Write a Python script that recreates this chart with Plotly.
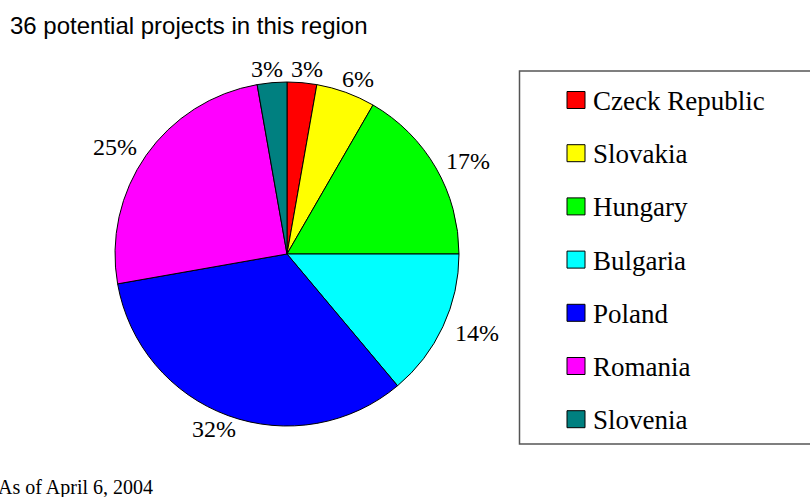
import math
import plotly.graph_objects as go

W, H = 810, 497

countries = ["Czeck Republic", "Slovakia", "Hungary", "Bulgaria", "Poland", "Romania", "Slovenia"]
projects = [1, 2, 6, 5, 12, 9, 1]
pct_labels = ["3%", "6%", "17%", "14%", "32%", "25%", "3%"]
colors = ["#FF0000", "#FFFF00", "#00FF00", "#00FFFF", "#0000FF", "#FF00FF", "#008080"]
title_text = "36 potential projects in this region"
footer_text = "As of April 6, 2004"


def px(x):
    return x / W


def py(y):
    return 1 - y / H


cx, cy, r = 287, 254, 172

fig = go.Figure()
fig.add_trace(go.Pie(
    labels=countries,
    values=projects,
    textinfo="none",
    sort=False,
    direction="clockwise",
    rotation=0,
    marker=dict(colors=colors, line=dict(color="#000000", width=1)),
    showlegend=False,
    hoverinfo="label+value",
    domain=dict(x=[px(cx - r), px(cx + r)], y=[py(cy + r), py(cy - r)]),
))

shapes = []
annotations = []

# percentage labels placed outside each slice, at the slice's mid angle
total = sum(projects)
cum = 0
for val, lab in zip(projects, pct_labels):
    mid = (cum + val / 2) / total * 2 * math.pi
    cum += val
    s, c = math.sin(mid), math.cos(mid)
    dist = r + 9
    hw = len(lab) * 7 + 4
    hh = 5
    x = cx + dist * s + hw * s + 3 * math.copysign(1, s)
    y = cy - dist * c - hh * c
    annotations.append(dict(xref="paper", yref="paper", x=px(x), y=py(y),
                            xanchor="center", yanchor="middle", showarrow=False,
                            text=lab,
                            font=dict(family="Liberation Serif", size=24, color="#000000")))

# legend frame
shapes.append(dict(type="rect", xref="paper", yref="paper",
                   x0=px(519.5), x1=px(830), y0=py(444), y1=py(71),
                   line=dict(color="#555555", width=1.5), fillcolor="rgba(0,0,0,0)"))

for i, (name, col) in enumerate(zip(countries, colors)):
    yc = 100 + 53.2 * i
    shapes.append(dict(type="rect", xref="paper", yref="paper",
                       x0=px(567), x1=px(585), y0=py(yc + 8.5), y1=py(yc - 8.5),
                       line=dict(color="#000000", width=1), fillcolor=col))
    annotations.append(dict(xref="paper", yref="paper", x=px(591), y=py(yc + 1),
                            xanchor="left", yanchor="middle", showarrow=False,
                            text=name,
                            font=dict(family="Liberation Serif", size=27, color="#000000")))

annotations.append(dict(xref="paper", yref="paper", x=px(8), y=py(25),
                        xanchor="left", yanchor="middle", showarrow=False,
                        text=title_text,
                        font=dict(family="Liberation Sans", size=24, color="#000000")))
annotations.append(dict(xref="paper", yref="paper", x=px(-4), y=py(487),
                        xanchor="left", yanchor="middle", showarrow=False,
                        text=footer_text,
                        font=dict(family="Liberation Serif", size=20, color="#000000")))

fig.update_layout(
    width=W, height=H,
    margin=dict(l=0, r=0, t=0, b=0),
    paper_bgcolor="#FFFFFF",
    plot_bgcolor="#FFFFFF",
    shapes=shapes,
    annotations=annotations,
)

fig.write_html("out.html", config={"displayModeBar": False},
               post_script="document.body.style.margin='0';document.body.style.overflow='hidden';")
